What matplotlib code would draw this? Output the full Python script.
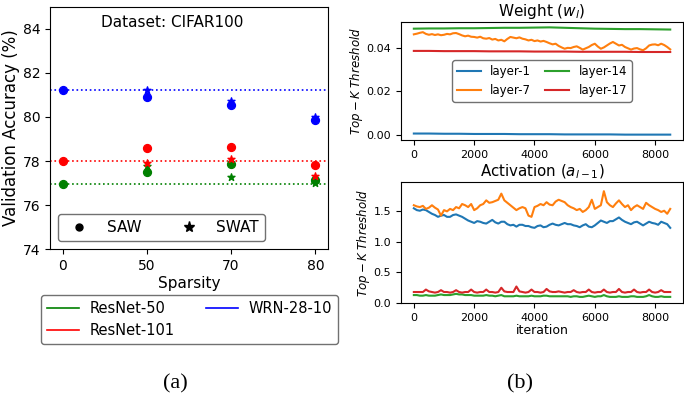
import numpy as np
import matplotlib
matplotlib.use("Agg")
import matplotlib.pyplot as plt
from matplotlib.lines import Line2D

# ---- panel (a): accuracy vs sparsity ----
sparsity = ["0", "50", "70", "80"]
models = ["ResNet-50", "ResNet-101", "WRN-28-10"]
model_colors = ["green", "red", "blue"]
baseline = [76.94, 78.0, 81.21]
saw = [
    [76.94, 77.50, 77.85, 77.12],
    [78.00, 78.58, 78.63, 77.83],
    [81.21, 80.91, 80.54, 79.87],
]
swat = [
    [None, 77.76, 77.26, 77.00],
    [None, 77.93, 78.07, 77.34],
    [None, 81.21, 80.73, 79.99],
]

# ---- panel (b): top-k thresholds over training ----
layers = ["layer-1", "layer-7", "layer-14", "layer-17"]
layer_colors = ["tab:blue", "tab:orange", "tab:green", "tab:red"]

iters_fine = np.arange(0, 8501, 100)
iters_coarse = np.arange(0, 8501, 500)

w_layer1 = [.0006, .0006, .0005, .0005, .0004, .0004, .0004, .0003, .0003,
            .0003, .0002, .0002, .0002, .0002, .0001, .0001, .0001, .0001]
w_layer14 = [.0487, .0488, .0488, .0489, .0489, .0490, .0491, .0491, .0492,
             .0493, .0491, .0489, .0487, .0486, .0485, .0485, .0484, .0483]
w_layer17 = [.0385, .0385, .0384, .0384, .0384, .0383, .0383, .0383, .0382,
             .0382, .0382, .0381, .0381, .0381, .0381, .0380, .0380, .0380]
w_layer7 = [.0461, .0464, .0468, .0471, .0463, .0459, .0462, .0458, .0461, .0457,
            .0459, .0463, .0461, .0466, .0467, .0462, .0456, .0452, .0455, .0450,
            .0449, .0446, .0450, .0443, .0441, .0444, .0437, .0440, .0433, .0436,
            .0429, .0440, .0449, .0446, .0443, .0447, .0441, .0438, .0433, .0436,
            .0430, .0433, .0428, .0431, .0426, .0420, .0415, .0418, .0408, .0401,
            .0395, .0399, .0398, .0403, .0406, .0399, .0391, .0397, .0403, .0412,
            .0418, .0405, .0395, .0401, .0410, .0419, .0426, .0418, .0410, .0413,
            .0403, .0397, .0391, .0396, .0398, .0392, .0388, .0397, .0410, .0414,
            .0415, .0411, .0418, .0412, .0403, .0392]

a_layer1 = [1.55, 1.52, 1.51, 1.53, 1.52, 1.49, 1.46, 1.44, 1.41, 1.43,
            1.44, 1.41, 1.41, 1.44, 1.45, 1.43, 1.41, 1.38, 1.35, 1.33,
            1.31, 1.34, 1.33, 1.31, 1.30, 1.33, 1.36, 1.32, 1.30, 1.33,
            1.33, 1.29, 1.27, 1.28, 1.25, 1.28, 1.28, 1.26, 1.26, 1.24,
            1.23, 1.26, 1.27, 1.24, 1.25, 1.28, 1.30, 1.28, 1.27, 1.29,
            1.31, 1.29, 1.29, 1.27, 1.26, 1.24, 1.27, 1.29, 1.25, 1.24,
            1.27, 1.31, 1.35, 1.33, 1.31, 1.34, 1.34, 1.37, 1.40, 1.36,
            1.33, 1.31, 1.29, 1.32, 1.33, 1.30, 1.27, 1.30, 1.33, 1.31,
            1.30, 1.28, 1.33, 1.31, 1.29, 1.23]
a_layer7 = [1.60, 1.58, 1.57, 1.59, 1.54, 1.56, 1.60, 1.56, 1.53, 1.43,
            1.52, 1.50, 1.54, 1.52, 1.57, 1.55, 1.62, 1.60, 1.57, 1.62,
            1.52, 1.55, 1.60, 1.62, 1.68, 1.64, 1.65, 1.67, 1.69, 1.79,
            1.68, 1.64, 1.60, 1.56, 1.52, 1.55, 1.57, 1.55, 1.43, 1.41,
            1.57, 1.59, 1.62, 1.60, 1.65, 1.61, 1.60, 1.66, 1.69, 1.67,
            1.65, 1.60, 1.57, 1.55, 1.52, 1.54, 1.49, 1.52, 1.57, 1.69,
            1.54, 1.57, 1.60, 1.83, 1.65, 1.60, 1.57, 1.63, 1.68, 1.62,
            1.57, 1.60, 1.52, 1.57, 1.60, 1.57, 1.54, 1.64, 1.60, 1.57,
            1.54, 1.52, 1.49, 1.51, 1.46, 1.54]
a_layer14 = [.13, .13, .12, .12, .13, .12, .12, .12, .13, .14,
             .13, .13, .13, .14, .15, .14, .14, .13, .13, .13,
             .12, .12, .12, .12, .13, .12, .12, .11, .12, .13,
             .11, .11, .11, .11, .12, .11, .11, .11, .11, .12,
             .11, .11, .11, .12, .12, .11, .11, .11, .11, .11,
             .11, .11, .10, .11, .11, .10, .10, .11, .12, .11,
             .10, .11, .11, .13, .11, .10, .10, .10, .11, .10,
             .10, .10, .11, .11, .10, .10, .10, .11, .13, .11,
             .10, .10, .11, .10, .10, .10]
a_layer17 = [.18, .18, .18, .18, .22, .19, .18, .17, .18, .21,
             .18, .18, .17, .18, .21, .18, .17, .18, .18, .22,
             .18, .17, .18, .18, .22, .18, .18, .17, .18, .25,
             .19, .18, .18, .18, .27, .19, .18, .17, .18, .22,
             .18, .18, .17, .18, .23, .19, .18, .18, .19, .18,
             .17, .18, .18, .21, .18, .17, .18, .18, .22, .18,
             .17, .18, .18, .22, .18, .17, .18, .18, .23, .18,
             .17, .18, .18, .22, .18, .17, .18, .18, .22, .18,
             .17, .18, .21, .18, .18, .18]

fig = plt.figure(figsize=(6.84, 3.95), dpi=100)

# panel (a)
ax = fig.add_axes([0.0731, 0.3696, 0.4064, 0.6127])
xpos = np.arange(len(sparsity))
for c, base, s1, s2 in zip(model_colors, baseline, saw, swat):
    ax.axhline(base, color=c, linestyle=":", linewidth=1.2)
    ax.scatter(xpos, s1, color=c, marker="o", s=32, zorder=3)
    xs = [x for x, v in zip(xpos, s2) if v is not None]
    ys = [v for v in s2 if v is not None]
    ax.scatter(xs, ys, color=c, marker="*", s=28, zorder=3)
ax.set_xticks(xpos)
ax.set_xticklabels(sparsity)
ax.set_xlim(-0.15, 3.15)
ax.set_ylim(74, 85)
ax.set_yticks([74, 76, 78, 80, 82, 84])
ax.tick_params(labelsize=10)
ax.set_xlabel("Sparsity", fontsize=11, labelpad=2)
ax.set_ylabel("Validation Accuracy (%)", fontsize=12, labelpad=2)
ax.text(0.44, 0.965, "Dataset: CIFAR100", transform=ax.transAxes,
        ha="center", va="top", fontsize=11)

mk = [Line2D([], [], color="black", marker="o", linestyle="none", markersize=5),
      Line2D([], [], color="black", marker="*", linestyle="none", markersize=8)]
ax.legend(mk, ["SAW", "SWAT"], ncol=2, loc="lower left", fontsize=11,
          edgecolor="0.3", columnspacing=2.1, handletextpad=0.8)

mh = [Line2D([], [], color=c, linewidth=1.2) for c in model_colors]
fig.legend(mh, models, ncol=2, loc="upper center", bbox_to_anchor=(0.277, 0.272),
           fontsize=10.5, edgecolor="0.3", columnspacing=2.1, handlelength=2.2,
           handletextpad=0.75)

fig.text(0.256, 0.017, "(a)", family="Liberation Serif", fontsize=16, ha="center")
fig.text(0.760, 0.017, "(b)", family="Liberation Serif", fontsize=16, ha="center")

# panel (b) top: weights
axw = fig.add_axes([0.5863, 0.6456, 0.4123, 0.2987])
axw.plot(iters_coarse, w_layer1, color=layer_colors[0], label=layers[0])
axw.plot(iters_fine, w_layer7, color=layer_colors[1], label=layers[1])
axw.plot(iters_coarse, w_layer14, color=layer_colors[2], label=layers[2])
axw.plot(iters_coarse, w_layer17, color=layer_colors[3], label=layers[3])
axw.set_yticks([0.0, 0.02, 0.04])
axw.set_xticks([0, 2000, 4000, 6000, 8000])
axw.tick_params(labelsize=8)
axw.set_title(r"Weight ($w_l$)", fontsize=11, pad=4)
axw.set_ylabel(r"$Top-K\ Threshold$", fontsize=8.5, labelpad=1)
axw.legend(ncol=2, loc="center", bbox_to_anchor=(0.5, 0.5), fontsize=8.5,
           edgecolor="0.3", columnspacing=1.2)

# panel (b) bottom: activations
axa = fig.add_axes([0.5863, 0.2329, 0.4123, 0.3063])
axa.plot(iters_fine, a_layer1, color=layer_colors[0])
axa.plot(iters_fine, a_layer7, color=layer_colors[1])
axa.plot(iters_fine, a_layer14, color=layer_colors[2])
axa.plot(iters_fine, a_layer17, color=layer_colors[3])
axa.set_ylim(0, 1.98)
axa.set_yticks([0.0, 0.5, 1.0, 1.5])
axa.set_xticks([0, 2000, 4000, 6000, 8000])
axa.tick_params(labelsize=8)
axa.set_title(r"Activation ($a_{l-1}$)", fontsize=10.8, pad=4)
axa.set_ylabel(r"$Top-K\ Threshold$", fontsize=8.5, labelpad=1)
axa.set_xlabel("iteration", fontsize=9, labelpad=1)

fig.savefig("out.png", dpi=100)
